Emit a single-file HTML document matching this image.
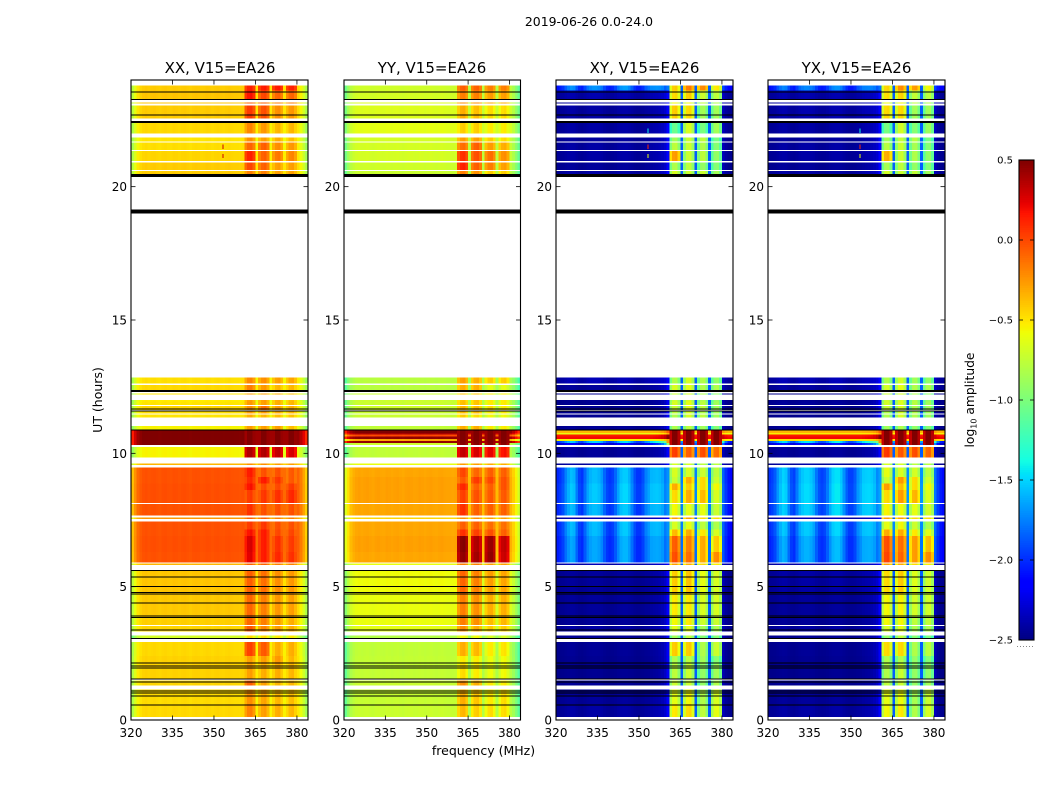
<!DOCTYPE html>
<html lang="en">
<head>
<meta charset="utf-8">
<title>2019-06-26 0.0-24.0 amplitude waterfall</title>
<style>
html,body{margin:0;padding:0;background:#fff;}
svg{display:block;font-family:"DejaVu Sans","Liberation Sans",sans-serif;fill:#000;}
</style>
</head>
<body>
<svg id="figure" width="1050" height="800" viewBox="0 0 1050 800" xmlns="http://www.w3.org/2000/svg">
  <rect x="0" y="0" width="1050" height="800" fill="#fff"/>
  <text x="589" y="26" font-size="12.45" text-anchor="middle">2019-06-26 0.0-24.0</text>
  <text x="220" y="73" font-size="15" text-anchor="middle">XX, V15=EA26</text>
  <text x="432" y="73" font-size="15" text-anchor="middle">YY, V15=EA26</text>
  <text x="644.5" y="73" font-size="15" text-anchor="middle">XY, V15=EA26</text>
  <text x="856.5" y="73" font-size="15" text-anchor="middle">YX, V15=EA26</text>
  <text x="483.5" y="755" font-size="12.5" text-anchor="middle">frequency (MHz)</text>
  <text x="102" y="400" font-size="12.5" text-anchor="middle" transform="rotate(-90 102 400)">UT (hours)</text>
  <text x="974" y="400" font-size="12.3" text-anchor="middle" transform="rotate(-90 974 400)">log<tspan font-size="8" dy="2.5">10</tspan><tspan dy="-2.5"> amplitude</tspan></text>
  <g id="panels"></g>
  <g id="colorbar"></g>
</svg>
<script>
// ---- axis values ----
const freqTicks = [320, 335, 350, 365, 380];
const hourTicks = [0, 5, 10, 15, 20];
const colorTicks = [0.5, 0, -0.5, -1, -1.5, -2, -2.5];
const colorTickLabels = ["0.5", "0.0", "\u22120.5", "\u22121.0", "\u22121.5", "\u22122.0", "\u22122.5"];

// ---- scans: UT hours, bottom to top ----
const scanStart = [.11,.60,1.29,1.52,2.10,2.40,3.04,3.31,3.56,3.90,4.70,5.81,5.90,6.30,6.90,7.15,7.54,7.66,8.14,8.62,8.87,9.12,9.56,9.85,10.31,10.39,10.46,10.53,10.63,10.70,10.76,10.86,11.34,11.50,11.62,11.81,11.95,12.20,12.37,12.62,20.47,20.62,20.96,21.38,21.69,22.00,22.56,23.12,23.27,23.60];
const scanEnd   = [.60,1.15,1.48,2.10,2.40,2.93,3.17,3.52,3.90,4.70,5.63,5.86,6.30,6.90,7.15,7.44,7.59,8.10,8.62,8.87,9.12,9.46,9.61,10.23,10.39,10.46,10.53,10.63,10.70,10.76,10.86,11.03,11.46,11.60,11.78,11.94,12.00,12.25,12.57,12.85,20.59,20.90,21.33,21.66,21.84,22.38,23.04,23.16,23.60,23.79];

// ---- log10 amplitude outside the receiver band, per scan ----
const xxOut = [-.46,-.47,-.45,-.44,-.44,-.46,-.68,-.45,-.43,-.41,-.4,-.35,-.03,-.02,-.03,-.03,-.25,-.03,-.02,-.02,-.03,-.03,-.35,-.55,.5,.5,.5,.5,.5,.5,.5,-.55,-.5,-.48,-.45,-.5,-.52,-.5,-.46,-.48,-.42,-.42,-.45,-.48,-.5,-.46,-.42,-.4,-.4,-.42];
const yyOut = [-.72,-.73,-.72,-.74,-.74,-.75,-.8,-.62,-.6,-.6,-.58,-.6,-.3,-.28,-.3,-.3,-.45,-.3,-.28,-.28,-.28,-.3,-.6,-.75,-.7,.45,-.3,.45,0,.4,.5,-.75,-.72,-.72,-.7,-.72,-.72,-.72,-.78,-.78,-.72,-.7,-.68,-.68,-.68,-.62,-.65,-.65,-.68,-.7];
const xyOut = [-2.42,-2.44,-2.45,-2.46,-2.46,-2.45,-2.45,-2.42,-2.45,-2.44,-2.44,-2.38,-1.8,-1.8,-1.75,-1.75,-2.38,-1.75,-1.72,-1.72,-1.75,-1.75,-2.42,-2.44,-2.2,-1.7,-.55,.2,.15,-.6,-.35,-2.45,-2.46,-2.46,-2.46,-2.46,-2.46,-2.46,-2.44,-2.38,-2.42,-2.44,-2.42,-2.42,-2.44,-2.42,-2.42,-2.42,-2.4,-1.85];
const yxOut = [-2.42,-2.44,-2.45,-2.46,-2.46,-2.45,-2.45,-2.42,-2.45,-2.44,-2.42,-2.38,-1.78,-1.78,-1.72,-1.72,-2.38,-1.7,-1.68,-1.68,-1.7,-1.7,-2.42,-2.44,-2.15,-1.65,-.5,.2,.15,-.55,-.35,-2.45,-2.46,-2.46,-2.46,-2.44,-2.46,-2.46,-2.42,-2.38,-2.42,-2.44,-2.42,-2.42,-2.44,-2.42,-2.4,-2.4,-2.4,-1.88];

// ---- log10 amplitude in the four sub-bands, per scan ----
const xxBands = [[-.2,-.3,-.35,-.38],[-.25,-.32,-.38,-.4],[-.1,-.3,-.38,-.38],[-.3,-.35,-.35,-.38],[-.3,-.3,-.28,-.38],[0,-.08,-.35,-.35],[-.5,-.5,-.55,-.55],[-.08,-.22,-.3,-.35],[-.12,-.2,-.3,-.35],[-.12,-.2,-.28,-.3],[-.1,-.15,-.25,-.28],[-.1,-.1,-.2,-.2],[.22,.12,.08,.05],[.24,.12,.05,.02],[.15,.12,-.03,-.02],[.02,.03,-.05,-.05],[-.1,-.1,-.2,-.2],[.05,-.05,-.05,-.05],[.02,.03,.05,.08],[.15,-.03,-.03,.02],[.08,.12,.03,-.08],[.12,-.05,-.05,-.08],[-.25,-.25,-.3,-.3],[.35,.35,.3,.25],[.5,.5,.5,.5],[.5,.5,.5,.5],[.5,.5,.5,.5],[.5,.5,.5,.5],[.5,.5,.5,.5],[.5,.5,.5,.5],[.5,.5,.5,.5],[-.3,-.3,-.3,-.4],[-.35,-.38,-.4,-.42],[-.3,-.3,-.35,-.38],[-.25,-.15,-.3,-.35],[-.28,-.3,-.35,-.38],[-.3,-.3,-.35,-.4],[-.3,-.3,-.35,-.4],[-.2,-.28,-.38,-.38],[-.22,-.25,-.3,-.32],[-.2,-.2,-.3,-.3],[-.02,-.1,-.3,-.3],[.1,-.1,-.18,-.22],[-.12,-.1,-.25,-.28],[-.25,-.3,-.35,-.4],[-.22,-.28,-.38,-.38],[.02,-.05,-.25,-.28],[-.1,-.1,-.2,-.2],[.15,-.02,-.12,-.12],[.1,.12,.12,.1]];
const yyBands = [[-.38,-.45,-.5,-.5],[-.35,-.42,-.55,-.5],[-.25,-.35,-.55,-.55],[-.5,-.55,-.62,-.6],[-.55,-.55,-.62,-.6],[-.35,-.38,-.55,-.52],[-.6,-.6,-.7,-.7],[-.25,-.35,-.45,-.45],[-.2,-.25,-.4,-.38],[-.2,-.25,-.35,-.35],[-.12,-.2,-.3,-.32],[-.2,-.2,-.3,-.3],[.42,.38,.42,.28],[.45,.35,.4,.3],[.05,0,-.05,-.1],[-.1,-.1,-.15,-.15],[-.25,-.25,-.3,-.3],[.05,-.1,-.1,-.1],[0,-.05,-.08,-.08],[.08,-.1,-.1,-.05],[-.08,.02,-.02,-.05],[-.02,-.12,-.1,-.1],[-.3,-.3,-.35,-.35],[.3,.25,.2,.15],[.45,.45,.45,.45],[.5,.5,.5,.5],[.5,.5,.5,.5],[.5,.5,.5,.5],[.5,.5,.5,.5],[.5,.5,.5,.5],[.5,.5,.5,.5],[-.35,-.35,-.55,-.55],[-.45,-.5,-.6,-.6],[-.4,-.4,-.55,-.55],[-.38,-.4,-.5,-.55],[-.4,-.42,-.55,-.55],[-.42,-.42,-.55,-.55],[-.42,-.42,-.55,-.55],[-.35,-.35,-.65,-.65],[-.3,-.35,-.45,-.45],[-.2,-.25,-.45,-.45],[.1,-.1,-.2,-.3],[.05,-.05,-.15,-.25],[-.15,-.1,-.3,-.35],[-.3,-.3,-.45,-.5],[-.45,-.45,-.55,-.55],[-.35,-.4,-.5,-.5],[-.25,-.25,-.35,-.35],[-.2,-.2,-.3,-.3],[-.1,-.1,-.2,-.2]];
const xyBands = [[-.55,-.5,-.8,-.65],[-.65,-.6,-.85,-.7],[-.75,-.75,-.95,-.85],[-.8,-.75,-.95,-.9],[-.85,-.8,-.9,-1],[-.45,-.45,-.85,-.75],[-.9,-.8,-1,-1],[-.65,-.65,-.9,-.85],[-.6,-.55,-.75,-.75],[-.55,-.55,-.7,-.7],[-.45,-.42,-.65,-.7],[-.3,-.35,-.5,-.55],[-.05,-.15,-.35,-.25],[-.1,-.2,-.35,-.45],[-.4,-.35,-.55,-.7],[-.7,-.65,-.8,-.85],[-.3,-.3,-.5,-.5],[-.6,-.65,-.65,-.75],[-.5,-.35,-.4,-.7],[-.35,-.45,-.5,-.6],[-.75,-.35,-.5,-.75],[-.7,-.7,-.75,-.8],[-.7,-.7,-.8,-.8],[0,-.1,-.05,-.15],[.5,.5,.5,.5],[.5,.5,.5,.5],[.5,.5,.5,.5],[.5,.5,.5,.5],[.5,.5,.5,.5],[.5,.5,.5,.5],[.5,.5,.5,.5],[-.85,-.8,-.9,-1],[-.85,-.7,-.8,-.9],[-.8,-.7,-.85,-.9],[-.75,-.65,-.8,-.9],[-.7,-.65,-.8,-.9],[-.75,-.7,-.85,-.95],[-.75,-.7,-.85,-.95],[-.7,-.65,-.85,-.85],[-.85,-.7,-.85,-.95],[-.7,-.75,-.75,-.9],[-.85,-.8,-.95,-1],[-.3,-.75,-.8,-.95],[-.8,-.75,-.85,-1],[-.9,-.75,-.8,-1.05],[-1.1,-.7,-1.05,-.9],[-.45,-.5,-.9,-.9],[-.6,-.6,-.8,-.85],[-.5,-.45,-.75,-.8],[-.45,-.2,-.25,-.55]];
const yxBands = [[-.6,-.55,-.85,-.7],[-.65,-.62,-.88,-.75],[-.8,-.75,-.95,-.9],[-.85,-.75,-.95,-.95],[-.85,-.85,-.95,-1],[-.5,-.5,-.85,-.8],[-.95,-.8,-1,-1.05],[-.7,-.65,-.85,-.85],[-.6,-.6,-.8,-.78],[-.6,-.58,-.72,-.72],[-.5,-.45,-.68,-.72],[-.3,-.35,-.5,-.55],[-.02,-.12,-.3,-.25],[-.05,-.15,-.3,-.4],[-.35,-.35,-.55,-.65],[-.65,-.6,-.75,-.85],[-.3,-.3,-.5,-.5],[-.58,-.62,-.65,-.72],[-.5,-.3,-.38,-.68],[-.3,-.42,-.5,-.6],[-.75,-.3,-.5,-.72],[-.65,-.7,-.72,-.8],[-.7,-.7,-.8,-.8],[.02,-.08,-.05,-.12],[.5,.5,.5,.5],[.5,.5,.5,.5],[.5,.5,.5,.5],[.5,.5,.5,.5],[.5,.5,.5,.5],[.5,.5,.5,.5],[.5,.5,.5,.5],[-.9,-.85,-.95,-1],[-.85,-.7,-.85,-.9],[-.85,-.72,-.85,-.9],[-.75,-.7,-.85,-.9],[-.72,-.68,-.82,-.9],[-.75,-.7,-.85,-.95],[-.75,-.7,-.85,-.95],[-.72,-.65,-.85,-.85],[-.85,-.72,-.9,-.95],[-.72,-.75,-.78,-.9],[-.88,-.8,-.95,-1],[-.35,-.75,-.85,-.95],[-.82,-.75,-.88,-1],[-.9,-.78,-.82,-1.05],[-1.05,-.72,-1,-.92],[-.5,-.5,-.9,-.9],[-.62,-.6,-.8,-.85],[-.52,-.48,-.78,-.8],[-.48,-.25,-.3,-.6]];

// ---- spectral shape per 1 MHz channel (320..383) ----
const parallelShape = [-.35,-.2,-.08,-.03,0,.01,-.005,.005,.01,0,-.01,.005,.01,0,-.005,.01,.005,-.005,.005,.01,0,-.01,.005,.01,.005,-.005,0,.01,.005,-.005,.005,.01,0,-.005,.005,.01,0,-.005,-.005,-.01,0,0,0,0,0,0,0,0,0,0,0,0,0,0,0,0,0,0,0,0,-.05,-.14,-.26,-.4];
const crossShape = [-.35,-.3,-.2,0,.15,.25,.2,-.05,-.25,-.3,-.1,.1,.2,.25,.25,.2,.1,-.1,-.25,-.3,-.25,-.1,.1,.25,.3,.3,.2,0,-.2,-.3,-.3,-.2,0,.1,.2,.2,.2,.15,.05,-.2,-.3,0,0,0,0,0,0,0,0,0,0,0,0,0,0,0,0,0,0,0,-.25,-.35,-.45,-.5];
const crossLeak = [0,0,0,0,0,0,0,0,0,0,0,0,0,0,0,0,0,0,0,0,0,0,0,0,0,0,0,0,0,0,0,0,0,0,.01,.02,.03,.05,.08,.14,.28,0,0,0,0,0,0,0,0,0,0,0,0,0,0,0,0,0,0,0,.1,.03,0,0];
const crossLeakGain = [1,1,1,1,1,1,1,1,1,1,1,1,1,1,1,1,1,1,1,1,1,1,1,1,5,6,1,1,1,1,1,1,1,1,1,1,1,1,1,1,1,1,1,1,1,1,1,1,1,1];
const subbandShape = [-.08,.02,.04,-.06];
const crossSubbandShape = [-.18,.03,.05,-.14];

// ---- flagged (black) rows on every panel: UT hour and duration ----
const flagHours = [.56,.90,1.01,1.09,1.43,1.54,1.95,2.03,2.14,3.05,3.38,3.84,3.91,4.39,4.73,4.78,5.0,5.37,5.61,10.87,11.58,11.66,12.34,19.07,20.42,22.43,22.68,23.27,23.56];
const flagDurations = [.035,.035,.035,.035,.035,.035,.035,.035,.035,.035,.035,.035,.035,.035,.035,.035,.035,.035,.035,.035,.035,.035,.07,.15,.1,.07,.035,.035,.035];

// ---- isolated bright samples: panel index, MHz channel, UT hour, log10 amplitude ----
const speckPanel = [0,0,2,2,2,3,3,3];
const speckFreq  = [353,353,353,353,353,353,353,353];
const speckHour  = [21.5,21.15,22.1,21.5,21.15,22.1,21.5,21.15];
const speckValue = [.3,.3,-1.4,.1,-.6,-1.4,.1,-.6];

const panelLeft = [131, 344, 556, 768];
const panelRight = [308, 520.5, 733, 945];
const panelNames = ["xx", "yy", "xy", "yx"];
const outLevels = [xxOut, yyOut, xyOut, yxOut];
const bandLevels = [xxBands, yyBands, xyBands, yxBands];

const FREQ_MIN = 320, FREQ_MAX = 384, HOUR_MIN = 0, HOUR_MAX = 24;
const PLOT_TOP = 80, PLOT_BOTTOM = 720;
const CB_TOP = 160, CB_BOTTOM = 640, CB_LEFT = 1019, CB_RIGHT = 1034;
const VMIN = -2.5, VMAX = 0.5;
const NS = "http://www.w3.org/2000/svg";

function xScale(panel, mhz) {
  return panelLeft[panel] + (mhz - FREQ_MIN) / (FREQ_MAX - FREQ_MIN) * (panelRight[panel] - panelLeft[panel]);
}
function yScale(hour) {
  return PLOT_BOTTOM - (hour - HOUR_MIN) / (HOUR_MAX - HOUR_MIN) * (PLOT_BOTTOM - PLOT_TOP);
}
function cbScale(v) {
  return CB_BOTTOM - (v - VMIN) / (VMAX - VMIN) * (CB_BOTTOM - CB_TOP);
}
function ramp(t, pts) {
  for (let i = 1; i < pts.length; i++) {
    if (t <= pts[i][0]) {
      const a = pts[i - 1], b = pts[i];
      return a[1] + (t - a[0]) / (b[0] - a[0]) * (b[1] - a[1]);
    }
  }
  return pts[pts.length - 1][1];
}
function jet(v) {
  const t = Math.min(1, Math.max(0, (v - VMIN) / (VMAX - VMIN)));
  const r = ramp(t, [[0,0],[.35,0],[.66,1],[.89,1],[1,.5]]);
  const g = ramp(t, [[0,0],[.125,0],[.375,1],[.64,1],[.91,0],[1,0]]);
  const b = ramp(t, [[0,.5],[.11,1],[.34,1],[.65,0],[1,0]]);
  return "rgb(" + Math.round(r * 255) + "," + Math.round(g * 255) + "," + Math.round(b * 255) + ")";
}
function cellValue(panel, scan, c) {
  const out = outLevels[panel][scan];
  const isCross = panel >= 2;
  if (c >= 41 && c < 60) {
    if ((c - 41) % 5 === 4) {
      return isCross ? Math.max(-1.85, out) : out - 0.08;
    }
    const sub = Math.floor((c - 41) / 5);
    const shape = isCross ? crossSubbandShape : subbandShape;
    return bandLevels[panel][scan][sub] + shape[(c - 41) % 5];
  }
  if (isCross) {
    const rippleScale = out > -1.4 ? 0 : Math.max(0, out + 2.5);
    return out + crossShape[c] * rippleScale + crossLeak[c] * crossLeakGain[scan];
  }
  return out + parallelShape[c];
}

const panelsGroup = document.getElementById("panels");

function drawPanel(p) {
  const group = document.createElementNS(NS, "g");
  
  
  panelsGroup.appendChild(group);

  for (let s = 0; s < scanStart.length; s++) {
    for (let c = 0; c < parallelShape.length; c++) {
      const rect = document.createElementNS(NS, "rect");
      
      
      const x0 = xScale(p, FREQ_MIN + c), x1 = xScale(p, FREQ_MIN + c + 1);
      const y0 = yScale(scanEnd[s]), y1 = yScale(scanStart[s]);
      rect.setAttribute("x", x0);
      rect.setAttribute("y", y0);
      rect.setAttribute("width", x1 - x0);
      rect.setAttribute("height", Math.max(1, y1 - y0));
      rect.setAttribute("fill", jet(cellValue(p, s, c)));
      rect.setAttribute("shape-rendering", "crispEdges");
      group.appendChild(rect);
    }
  }

  for (let k = 0; k < speckPanel.length; k++) {
    if (speckPanel[k] !== p) continue;
    const speck = document.createElementNS(NS, "rect");
    
    
    speck.setAttribute("x", xScale(p, speckFreq[k]));
    speck.setAttribute("y", yScale(speckHour[k] + 0.08));
    speck.setAttribute("width", 1);
    speck.setAttribute("height", yScale(0) - yScale(0.16));
    speck.setAttribute("fill", jet(speckValue[k]));
    speck.setAttribute("shape-rendering", "crispEdges");
    group.appendChild(speck);
  }

  for (let f = 0; f < flagHours.length; f++) {
    const flag = document.createElementNS(NS, "rect");
    
    
    flag.setAttribute("x", panelLeft[p]);
    flag.setAttribute("y", yScale(flagHours[f] + flagDurations[f] / 2));
    flag.setAttribute("width", panelRight[p] - panelLeft[p]);
    flag.setAttribute("height", Math.max(1, yScale(0) - yScale(flagDurations[f])));
    flag.setAttribute("fill", "#000");
    flag.setAttribute("shape-rendering", "crispEdges");
    group.appendChild(flag);
  }

  const frame = document.createElementNS(NS, "rect");
  
  
  frame.setAttribute("x", panelLeft[p]);
  frame.setAttribute("y", PLOT_TOP);
  frame.setAttribute("width", panelRight[p] - panelLeft[p]);
  frame.setAttribute("height", PLOT_BOTTOM - PLOT_TOP);
  frame.setAttribute("fill", "none");
  frame.setAttribute("stroke", "#000");
  frame.setAttribute("stroke-width", "1.1");
  group.appendChild(frame);

  freqTicks.forEach(function (mhz) {
    const x = xScale(p, mhz);
    [[PLOT_BOTTOM, PLOT_BOTTOM - 4.5], [PLOT_TOP, PLOT_TOP + 4.5]].forEach(function (pair) {
      const tick = document.createElementNS(NS, "line");
      
      
      tick.setAttribute("x1", x);
      tick.setAttribute("x2", x);
      tick.setAttribute("y1", pair[0]);
      tick.setAttribute("y2", pair[1]);
      tick.setAttribute("stroke", "#000");
      tick.setAttribute("stroke-width", "0.8");
      group.appendChild(tick);
    });
    const label = document.createElementNS(NS, "text");
    
    
    label.setAttribute("x", x);
    label.setAttribute("y", 737);
    label.setAttribute("font-size", "12");
    label.setAttribute("text-anchor", "middle");
    label.textContent = String(mhz);
    group.appendChild(label);
  });

  hourTicks.forEach(function (hour) {
    const y = yScale(hour);
    [[panelLeft[p], panelLeft[p] + 4.5], [panelRight[p], panelRight[p] - 4.5]].forEach(function (pair) {
      const tick = document.createElementNS(NS, "line");
      
      
      tick.setAttribute("x1", pair[0]);
      tick.setAttribute("x2", pair[1]);
      tick.setAttribute("y1", y);
      tick.setAttribute("y2", y);
      tick.setAttribute("stroke", "#000");
      tick.setAttribute("stroke-width", "0.8");
      group.appendChild(tick);
    });
    const label = document.createElementNS(NS, "text");
    
    
    label.setAttribute("x", panelLeft[p] - 4);
    label.setAttribute("y", y + 4.5);
    label.setAttribute("font-size", "12");
    label.setAttribute("text-anchor", "end");
    label.textContent = String(hour);
    group.appendChild(label);
  });
}

for (let p = 0; p < panelLeft.length; p++) {
  drawPanel(p);
}

function drawColorbar() {
  const bar = document.getElementById("colorbar");
  const STEPS = 256;
  for (let i = 0; i < STEPS; i++) {
    const v0 = VMIN + (VMAX - VMIN) * i / STEPS;
    const v1 = VMIN + (VMAX - VMIN) * (i + 1) / STEPS;
    const seg = document.createElementNS(NS, "rect");
    
    
    seg.setAttribute("x", CB_LEFT);
    seg.setAttribute("y", cbScale(v1));
    seg.setAttribute("width", CB_RIGHT - CB_LEFT);
    seg.setAttribute("height", cbScale(v0) - cbScale(v1) + 0.5);
    seg.setAttribute("fill", jet((v0 + v1) / 2));
    seg.setAttribute("shape-rendering", "crispEdges");
    bar.appendChild(seg);
  }
  const frame = document.createElementNS(NS, "rect");
  
  
  frame.setAttribute("x", CB_LEFT);
  frame.setAttribute("y", CB_TOP);
  frame.setAttribute("width", CB_RIGHT - CB_LEFT);
  frame.setAttribute("height", CB_BOTTOM - CB_TOP);
  frame.setAttribute("fill", "none");
  frame.setAttribute("stroke", "#000");
  frame.setAttribute("stroke-width", "1.1");
  bar.appendChild(frame);

  colorTicks.forEach(function (v, i) {
    const y = cbScale(v);
    [[CB_LEFT, CB_LEFT + 4], [CB_RIGHT, CB_RIGHT - 4]].forEach(function (pair) {
      const tick = document.createElementNS(NS, "line");
      
      
      tick.setAttribute("x1", pair[0]);
      tick.setAttribute("x2", pair[1]);
      tick.setAttribute("y1", y);
      tick.setAttribute("y2", y);
      tick.setAttribute("stroke", "#000");
      tick.setAttribute("stroke-width", "0.8");
      bar.appendChild(tick);
    });
    const label = document.createElementNS(NS, "text");
    
    
    label.setAttribute("x", 1013);
    label.setAttribute("y", y + 3.5);
    label.setAttribute("font-size", "10");
    label.setAttribute("text-anchor", "end");
    label.textContent = colorTickLabels[i];
    bar.appendChild(label);
  });

  const dots = document.createElementNS(NS, "line");
  
  
  dots.setAttribute("x1", 1017);
  dots.setAttribute("x2", 1035);
  dots.setAttribute("y1", 646.5);
  dots.setAttribute("y2", 646.5);
  dots.setAttribute("stroke", "#888");
  dots.setAttribute("stroke-width", "1");
  dots.setAttribute("stroke-dasharray", "1 2");
  bar.appendChild(dots);
}
drawColorbar();
</script>
</body>
</html>
